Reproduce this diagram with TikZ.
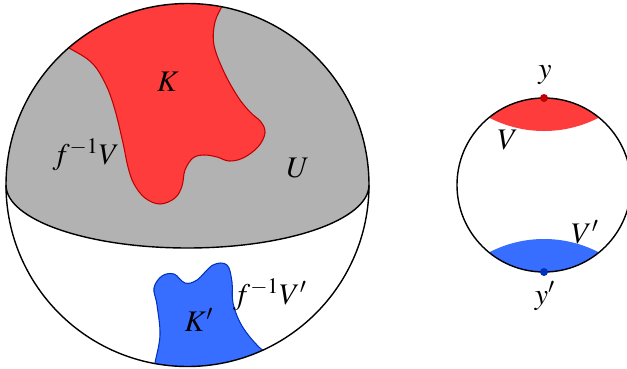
\documentclass[tikz,border=0pt]{standalone}
\usepackage{mathptmx}
\usepackage{tikz}
\usetikzlibrary{positioning}

\definecolor{kred}{RGB}{255,60,60}
\definecolor{kblue}{RGB}{55,110,255}
\definecolor{dred}{RGB}{190,0,0}
\definecolor{dblue}{RGB}{0,50,190}

\begin{document}
\begin{tikzpicture}[x=0.02cm, y=-0.02cm, every node/.style={font=\fontsize{17}{20}\selectfont}]
  \useasboundingbox (0,0) rectangle (627,369);

  % big ball: shaded cap U over the equator
  \begin{scope}
    \clip (187.5,185) circle[radius=181.5];
    \fill[black!30] (6,185) -- (6,-10) -- (369,-10) -- (369,185)
      arc[start angle=0, end angle=180, x radius=181.5, y radius=63] -- cycle;
    % K inside U
    \filldraw[fill=kred, draw=dred, line width=0.6pt] plot[smooth cycle, tension=0.6] coordinates {
      (45,36) (69,48) (92,63) (106,85) (115,110) (123,143) (128,167) (134,184)
      (145,198) (160,204) (175,198) (182,186) (185,170) (193,158) (204,155)
      (217,157) (229,161) (243,158) (258,147) (265,133) (261,122) (250,112)
      (238,97) (224,72) (214,45) (215,22) (224,2) (232,-20) (140,-30)};
    % K' below the equator
    \filldraw[fill=kblue, draw=dblue, line width=0.6pt] plot[smooth cycle, tension=0.6] coordinates {
      (152,380) (155,363) (160,335) (157,305) (154,288) (162,276) (174,274)
      (185,283) (197,280) (213,265) (227,265) (232,282) (233,303) (242,326)
      (260,348) (280,362) (270,390) (200,395)};
  \end{scope}
  \draw[line width=0.8pt] (6,185) arc[start angle=180, end angle=0, x radius=181.5, y radius=63];
  \draw[line width=0.8pt] (187.5,185) circle[radius=181.5];

  \node (K) at (168,82) {$K$};
  \node (fV) at (86,155) {$f^{-1}V$};
  \node (U) at (298,168) {$U$};
  \node (K2) at (199,320) {$K'$};
  \node (fV2) at (270,295) {$f^{-1}V'$};

  % small ball with the two caps
  \begin{scope}
    \clip (544,185) circle[radius=87];
    \fill[kred] (544,12) circle[radius=119];
    \fill[kblue] (544,358) circle[radius=119];
  \end{scope}
  \draw[dred, line width=0.6pt] (544,12) ++(-63:119) arc[start angle=-63, end angle=-117, radius=119];
  \draw[dblue, line width=0.6pt] (544,358) ++(63:119) arc[start angle=63, end angle=117, radius=119];
  \draw[line width=0.8pt] (544,185) circle[radius=87];
  \fill[dred] (544,98) circle[radius=4];
  \fill[dblue] (544,272) circle[radius=4];

  \node (y) at (545,75) {$y$};
  \node (V) at (508,140) {$V$};
  \node (V2) at (585,232) {$V'$};
  \node (y2) at (545,296) {$y'$};
\end{tikzpicture}
\end{document}
